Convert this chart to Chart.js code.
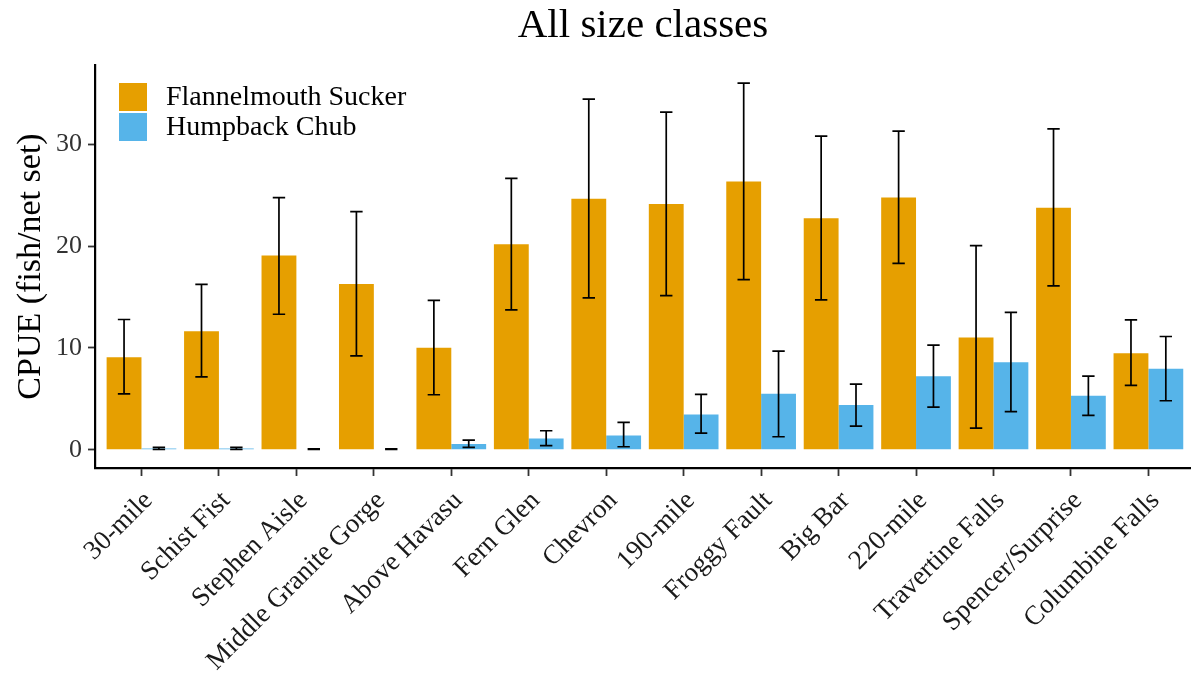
<!DOCTYPE html>
<html>
<head>
<meta charset="utf-8">
<title>All size classes</title>
<script src="https://cdn.jsdelivr.net/npm/chart.js@4/dist/chart.umd.min.js"></script>
<style>
  html, body { margin: 0; padding: 0; background: #ffffff; overflow: hidden; }
  canvas { display: block; background: #ffffff; }
</style>
</head>
<body>
<canvas id="chart" width="1191" height="675"></canvas>
<script>
// Sampling reaches, upstream to downstream
const categories = [
  '30-mile', 'Schist Fist', 'Stephen Aisle', 'Middle Granite Gorge', 'Above Havasu',
  'Fern Glen', 'Chevron', '190-mile', 'Froggy Fault', 'Big Bar', '220-mile',
  'Travertine Falls', 'Spencer/Surprise', 'Columbine Falls'
];

// Flannelmouth Sucker CPUE with lower / upper interval bounds
const fmsCpue = [9.09, 11.64, 19.07, 16.29, 10.01, 20.18, 24.66, 24.14, 26.36, 22.73, 24.79, 11.02, 23.78, 9.48];
const fmsLow  = [5.49, 7.16, 13.31, 9.22, 5.40, 13.74, 14.92, 15.14, 16.71, 14.72, 18.31, 2.12, 16.09, 6.31];
const fmsHigh = [12.79, 16.25, 24.76, 23.39, 14.68, 26.65, 34.45, 33.17, 36.01, 30.81, 31.30, 20.05, 31.53, 12.76];

// Humpback Chub CPUE with lower / upper interval bounds
const hbcCpue = [0.12, 0.12, 0.05, 0.05, 0.55, 1.11, 1.40, 3.46, 5.49, 4.38, 7.22, 8.60, 5.30, 7.95];
const hbcLow  = [0.02, 0.02, 0.03, 0.03, 0.23, 0.39, 0.29, 1.63, 1.27, 2.32, 4.18, 3.73, 3.37, 4.81];
const hbcHigh = [0.22, 0.22, 0.07, 0.07, 0.94, 1.86, 2.68, 5.43, 9.68, 6.44, 10.27, 13.50, 7.22, 11.12];

const yTicks = [0, 10, 20, 30];

const chartTitle = 'All size classes';

const SERIF = "'Liberation Serif', 'Times New Roman', serif";
const COL_FMS = '#E69F00';
const COL_HBC = '#56B4E9';

const toPoints = arr => arr.map((v, i) => ({ x: i, y: v }));

// Interval whiskers drawn on top of each bar
const errorBars = {
  id: 'errorBars',
  afterDatasetsDraw(chart) {
    const ctx = chart.ctx;
    const y = chart.scales.y;
    ctx.save();
    ctx.strokeStyle = '#000000';
    ctx.lineWidth = 1.7;
    chart.data.datasets.forEach((ds, di) => {
      const meta = chart.getDatasetMeta(di);
      meta.data.forEach((bar, i) => {
        const yHi = y.getPixelForValue(ds.errHigh[i]);
        const yLo = y.getPixelForValue(ds.errLow[i]);
        const x = bar.x;
        const cap = 6.2;
        ctx.beginPath();
        ctx.moveTo(x, yHi); ctx.lineTo(x, yLo);
        ctx.moveTo(x - cap, yHi); ctx.lineTo(x + cap, yHi);
        ctx.moveTo(x - cap, yLo); ctx.lineTo(x + cap, yLo);
        ctx.stroke();
      });
    });
    ctx.restore();
  }
};

// Title centred over the plotting panel
const panelTitle = {
  id: 'panelTitle',
  afterDraw(chart) {
    const ctx = chart.ctx;
    const a = chart.chartArea;
    ctx.save();
    ctx.font = '41px ' + SERIF;
    ctx.fillStyle = '#000000';
    ctx.textAlign = 'center';
    ctx.textBaseline = 'alphabetic';
    ctx.fillText(chartTitle, (a.left + a.right) / 2, 37);
    ctx.restore();
  }
};

// Species key in the upper-left corner of the panel
const speciesKey = {
  id: 'speciesKey',
  afterDraw(chart) {
    const ctx = chart.ctx;
    const left = chart.chartArea.left + 24;
    let top = chart.chartArea.top + 18;
    ctx.save();
    ctx.font = '28px ' + SERIF;
    ctx.textBaseline = 'middle';
    ctx.textAlign = 'left';
    chart.data.datasets.forEach(ds => {
      ctx.fillStyle = ds.backgroundColor;
      ctx.fillRect(left, top, 28, 28);
      ctx.fillStyle = '#000000';
      ctx.fillText(ds.label, left + 47, top + 15);
      top += 30;
    });
    ctx.restore();
  }
};

new Chart(document.getElementById('chart'), {
  type: 'bar',
  data: {
    datasets: [
      {
        label: 'Flannelmouth Sucker',
        data: toPoints(fmsCpue),
        errLow: fmsLow,
        errHigh: fmsHigh,
        backgroundColor: COL_FMS,
        borderWidth: 0,
        categoryPercentage: 0.9,
        barPercentage: 1.0
      },
      {
        label: 'Humpback Chub',
        data: toPoints(hbcCpue),
        errLow: hbcLow,
        errHigh: hbcHigh,
        backgroundColor: COL_HBC,
        borderWidth: 0,
        categoryPercentage: 0.9,
        barPercentage: 1.0
      }
    ]
  },
  options: {
    responsive: false,
    animation: false,
    layout: { padding: { left: 0, right: 0, top: 65, bottom: 0 } },
    plugins: {
      legend: { display: false },
      tooltip: { enabled: false },
      title: { display: false }
    },
    scales: {
      x: {
        type: 'linear',
        offset: false,
        min: -0.6,
        max: 13.55,
        afterBuildTicks(scale) {
          scale.ticks = categories.map((c, i) => ({ value: i }));
        },
        afterFit(scale) { scale.height = 207; },
        grid: {
          offset: false,
          drawOnChartArea: false,
          drawTicks: true,
          tickLength: 8,
          tickColor: '#333333',
          tickWidth: 1.8
        },
        border: { display: true, color: '#000000', width: 2.2 },
        ticks: {
          autoSkip: false,
          minRotation: 45,
          maxRotation: 45,
          padding: 9,
          labelOffset: 7,
          color: '#1a1a1a',
          font: { family: SERIF, size: 27 },
          callback: v => categories[v]
        }
      },
      y: {
        min: -1.8,
        max: 37.8,
        afterBuildTicks(scale) {
          scale.ticks = yTicks.map(v => ({ value: v }));
        },
        afterFit(scale) { scale.width = 95; },
        grid: {
          drawOnChartArea: false,
          drawTicks: true,
          tickLength: 7,
          tickColor: '#333333',
          tickWidth: 1.8
        },
        border: { display: true, color: '#000000', width: 2.2 },
        ticks: {
          padding: 6,
          color: '#333333',
          font: { family: SERIF, size: 26 }
        },
        title: {
          display: true,
          text: 'CPUE (fish/net set)',
          color: '#000000',
          font: { family: SERIF, size: 34, lineHeight: 1.2 },
          padding: { top: 11, bottom: 0 }
        }
      }
    }
  },
  plugins: [errorBars, panelTitle, speciesKey]
});
</script>
</body>
</html>
